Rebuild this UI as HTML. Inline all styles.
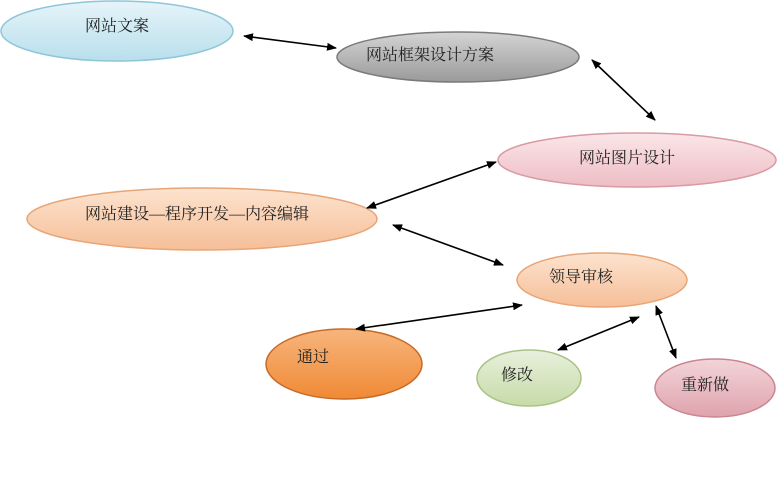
<!DOCTYPE html>
<html><head><meta charset="utf-8"><style>
html,body{margin:0;padding:0;background:#fff;}
svg text{font-family:"Liberation Serif","Noto Serif CJK SC","Noto Sans CJK SC",serif;font-size:16px;fill:#222;}
</style></head><body>
<svg width="778" height="475" viewBox="0 0 778 475" xmlns="http://www.w3.org/2000/svg">
<defs>
<linearGradient id="gb" x1="0" y1="0" x2="0" y2="1"><stop offset="0" stop-color="#e6f4f9"/><stop offset="1" stop-color="#b8dfec"/></linearGradient>
<linearGradient id="gg" x1="0" y1="0" x2="0" y2="1"><stop offset="0" stop-color="#d4d4d4"/><stop offset="1" stop-color="#9a9a9a"/></linearGradient>
<linearGradient id="gp" x1="0" y1="0" x2="0" y2="1"><stop offset="0" stop-color="#fbe6e8"/><stop offset="1" stop-color="#edbdc4"/></linearGradient>
<linearGradient id="gpe" x1="0" y1="0" x2="0" y2="1"><stop offset="0" stop-color="#fde3cf"/><stop offset="1" stop-color="#f5bf98"/></linearGradient>
<linearGradient id="go" x1="0" y1="0" x2="0" y2="1"><stop offset="0" stop-color="#f7b57c"/><stop offset="1" stop-color="#f08a35"/></linearGradient>
<linearGradient id="ggr" x1="0" y1="0" x2="0" y2="1"><stop offset="0" stop-color="#e8f0dc"/><stop offset="1" stop-color="#c6dba8"/></linearGradient>
<linearGradient id="gpk" x1="0" y1="0" x2="0" y2="1"><stop offset="0" stop-color="#f2d4d8"/><stop offset="1" stop-color="#dfa3ad"/></linearGradient>
<marker id="ah" markerWidth="10" markerHeight="8" refX="9" refY="4" orient="auto-start-reverse" markerUnits="userSpaceOnUse"><path d="M0,0 L10,4 L0,8 z" fill="#000"/></marker>
</defs>
<ellipse cx="117" cy="31" rx="116" ry="30" fill="url(#gb)" stroke="#8ec6d8" stroke-width="1.5"/>
<ellipse cx="458" cy="57" rx="121" ry="25" fill="url(#gg)" stroke="#7a7a7a" stroke-width="1.5"/>
<ellipse cx="637" cy="160" rx="139" ry="27" fill="url(#gp)" stroke="#d89aa3" stroke-width="1.5"/>
<ellipse cx="202" cy="219" rx="175" ry="31" fill="url(#gpe)" stroke="#e8a577" stroke-width="1.5"/>
<ellipse cx="602" cy="280" rx="85" ry="27" fill="url(#gpe)" stroke="#e8a577" stroke-width="1.5"/>
<ellipse cx="344" cy="364" rx="78" ry="35" fill="url(#go)" stroke="#c86a25" stroke-width="1.5"/>
<ellipse cx="529" cy="378" rx="52" ry="28" fill="url(#ggr)" stroke="#a9c386" stroke-width="1.5"/>
<ellipse cx="715" cy="388" rx="60" ry="29" fill="url(#gpk)" stroke="#c98591" stroke-width="1.5"/>
<g stroke="#000" stroke-width="1.6" marker-start="url(#ah)" marker-end="url(#ah)">
<line x1="244" y1="36" x2="336" y2="48"/>
<line x1="592" y1="60" x2="655" y2="120"/>
<line x1="367" y1="208" x2="496" y2="162"/>
<line x1="393" y1="225" x2="503" y2="265"/>
<line x1="356" y1="329" x2="522" y2="305"/>
<line x1="558" y1="350" x2="639" y2="317"/>
<line x1="656" y1="306" x2="676" y2="358"/>
</g>
<text x="117" y="31" text-anchor="middle">网站文案</text>
<text x="430" y="60" text-anchor="middle">网站框架设计方案</text>
<text x="627" y="163" text-anchor="middle">网站图片设计</text>
<text x="197" y="219" text-anchor="middle">网站建设—程序开发—内容编辑</text>
<text x="581" y="282" text-anchor="middle">领导审核</text>
<text x="313" y="362" text-anchor="middle">通过</text>
<text x="517" y="380" text-anchor="middle">修改</text>
<text x="705" y="390" text-anchor="middle">重新做</text>
</svg>
</body></html>
